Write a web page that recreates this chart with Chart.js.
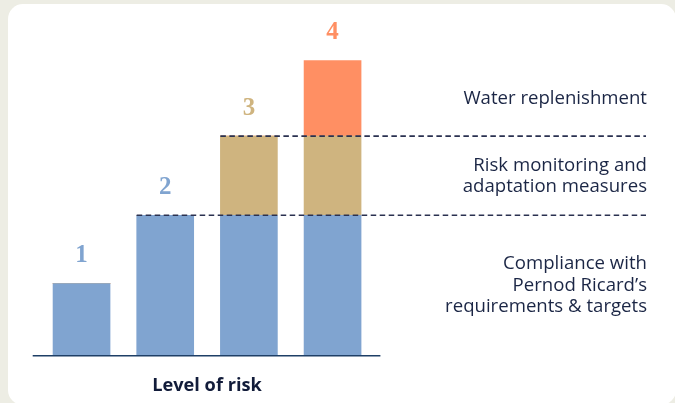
<!DOCTYPE html>
<html><head><meta charset="utf-8">
<script src="https://cdn.jsdelivr.net/npm/chart.js@4"></script>
<style>
html,body{margin:0;padding:0;width:675px;height:403px;overflow:hidden;background:#EDEDE4;}
#card{position:absolute;left:8px;top:4px;width:668px;height:401px;background:#fff;border-radius:15px;}
#wrap{position:absolute;left:0;top:0;width:675px;height:403px;}
</style></head>
<body><div id="card"></div><div id="wrap"><canvas id="c" width="675" height="403"></canvas></div>
<script>
const categories = ['1','2','3','4'];
const compliance = [1.0, 1.95, 1.95, 1.95];
const monitoring = [0, 0, 1.1, 1.1];
const replenish = [0, 0, 0, 1.05];
const levelLabels = ['1','2','3','4'];
const levelColors = ['#80A4D0','#80A4D0','#CFB47F','#FF8F63'];
const sideLabels = [
  ['Water replenishment'],
  ['Risk monitoring and','adaptation measures'],
  ['Compliance with','Pernod Ricard\u2019s','requirements & targets']
];
const axisTitle = 'Level of risk';

const navy = '#1B2645';
const overlay = {
  id:'overlay',
  afterDatasetsDraw(chart){
    const ctx = chart.ctx, ca = chart.chartArea, y = chart.scales.y;
    const m0 = chart.getDatasetMeta(0).data, m1 = chart.getDatasetMeta(1).data;
    ctx.save();
    // baseline
    const by = y.getPixelForValue(0);
    ctx.strokeStyle = '#1E3F66'; ctx.lineWidth = 1.5;
    ctx.beginPath(); ctx.moveTo(ca.left - 7, by); ctx.lineTo(ca.right + 6, by); ctx.stroke();
    // dashed lines
    const rightX = 646;
    ctx.strokeStyle = '#2A3150'; ctx.lineWidth = 1.6; ctx.setLineDash([5.5,3.5]);
    const y1 = y.getPixelForValue(compliance[1]);
    ctx.beginPath(); ctx.moveTo(m0[1].x - m0[1].width/2, y1); ctx.lineTo(rightX, y1); ctx.stroke();
    const y2 = y.getPixelForValue(compliance[2] + monitoring[2]);
    ctx.beginPath(); ctx.moveTo(m1[2].x - m1[2].width/2, y2); ctx.lineTo(rightX, y2); ctx.stroke();
    ctx.setLineDash([]);
    // level numbers
    ctx.font = 'bold 25px "Liberation Serif", "DejaVu Serif", serif';
    ctx.textAlign = 'center'; ctx.textBaseline = 'middle';
    categories.forEach((c,i)=>{
      const total = compliance[i] + monitoring[i] + replenish[i];
      const ty = y.getPixelForValue(total) - 28;
      ctx.fillStyle = levelColors[i];
      ctx.fillText(levelLabels[i], m0[i].x, ty);
    });
    // side labels
    ctx.fillStyle = navy; ctx.textAlign = 'right'; ctx.textBaseline = 'alphabetic';
    ctx.font = '18.6px "Open Sans", "Noto Sans", sans-serif';
    const lh = 21.8;
    const groups = [
      [sideLabels[0], 104],
      [sideLabels[1], 170.5],
      [sideLabels[2], 268.8]
    ];
    groups.forEach(([lines, base])=>{
      lines.forEach((t,k)=> ctx.fillText(t, 647, base + k*lh));
    });
    // axis title
    ctx.font = 'bold 18.2px "Open Sans", "Noto Sans", sans-serif';
    ctx.textAlign = 'center';
    ctx.fillStyle = '#121C3A';
    ctx.fillText(axisTitle, 207, 391);
    ctx.restore();
  }
};

new Chart(document.getElementById('c'), {
  type:'bar',
  data:{
    labels: categories,
    datasets:[
      {label:'Compliance', data: compliance, backgroundColor:'#80A4D0'},
      {label:'Monitoring', data: monitoring, backgroundColor:'#CFB47F'},
      {label:'Replenishment', data: replenish, backgroundColor:'#FF8F63'}
    ]
  },
  options:{
    responsive:false, animation:false,
    layout:{padding:{left:39.7, right:300.6, top:20, bottom:47.3}},
    plugins:{legend:{display:false}, tooltip:{enabled:false}},
    datasets:{bar:{barThickness:57, borderWidth:0}},
    scales:{
      x:{stacked:true, display:false},
      y:{stacked:true, display:false, min:0, max:335.7/72}
    }
  },
  plugins:[overlay]
});
</script></body></html>
